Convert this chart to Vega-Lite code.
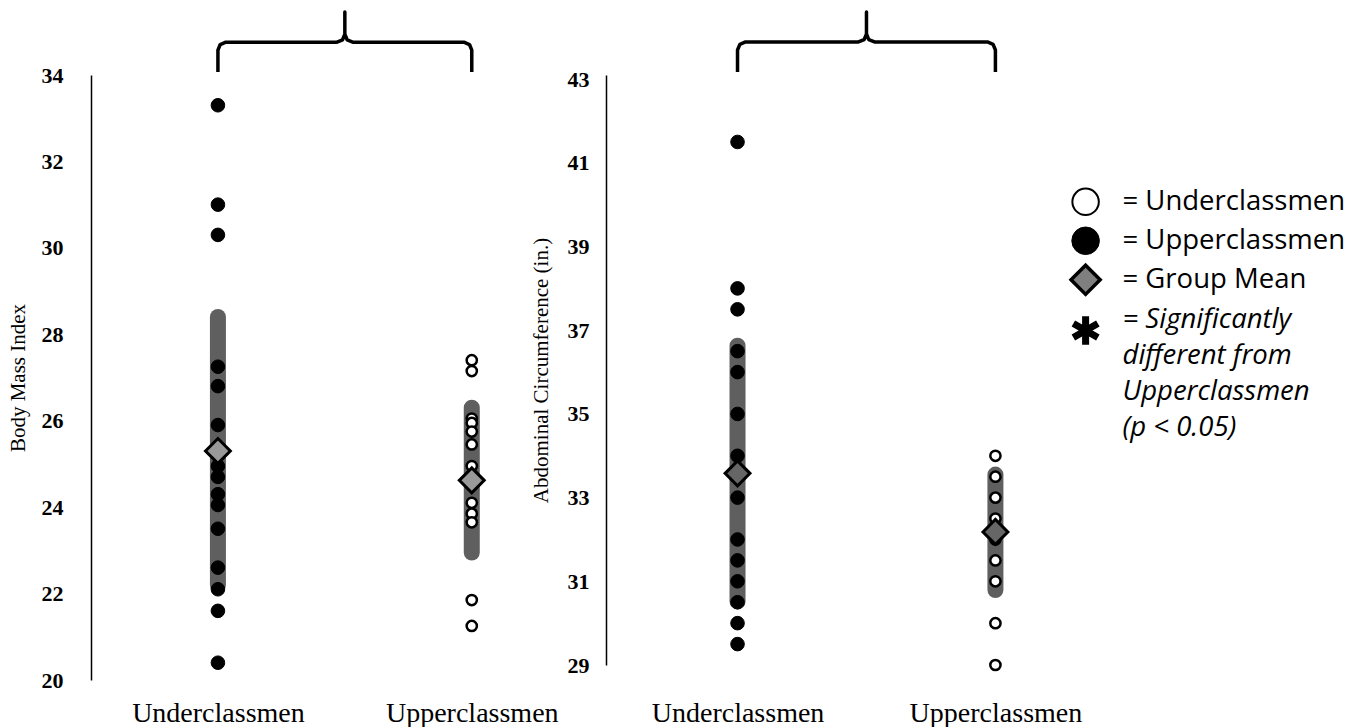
{
  "$schema": "https://vega.github.io/schema/vega-lite/v6.json",
  "background": "white",
  "padding": {"left": 7, "top": 10, "right": 0, "bottom": 0},
  "config": {"view": {"stroke": null}, "font": "Liberation Serif"},
  "datasets": {
    "bmi": [
      {"group": "Underclassmen", "idx": 1, "val": 33.3},
      {"group": "Underclassmen", "idx": 1, "val": 31.0},
      {"group": "Underclassmen", "idx": 1, "val": 30.3},
      {"group": "Underclassmen", "idx": 1, "val": 27.25},
      {"group": "Underclassmen", "idx": 1, "val": 26.8},
      {"group": "Underclassmen", "idx": 1, "val": 25.9},
      {"group": "Underclassmen", "idx": 1, "val": 24.95},
      {"group": "Underclassmen", "idx": 1, "val": 24.7},
      {"group": "Underclassmen", "idx": 1, "val": 24.3},
      {"group": "Underclassmen", "idx": 1, "val": 24.05},
      {"group": "Underclassmen", "idx": 1, "val": 23.5},
      {"group": "Underclassmen", "idx": 1, "val": 22.6},
      {"group": "Underclassmen", "idx": 1, "val": 22.1},
      {"group": "Underclassmen", "idx": 1, "val": 21.6},
      {"group": "Underclassmen", "idx": 1, "val": 20.4},
      {"group": "Upperclassmen", "idx": 2, "val": 27.4},
      {"group": "Upperclassmen", "idx": 2, "val": 27.15},
      {"group": "Upperclassmen", "idx": 2, "val": 26.05},
      {"group": "Upperclassmen", "idx": 2, "val": 25.95},
      {"group": "Upperclassmen", "idx": 2, "val": 25.75},
      {"group": "Upperclassmen", "idx": 2, "val": 25.45},
      {"group": "Upperclassmen", "idx": 2, "val": 24.95},
      {"group": "Upperclassmen", "idx": 2, "val": 24.1},
      {"group": "Upperclassmen", "idx": 2, "val": 23.85},
      {"group": "Upperclassmen", "idx": 2, "val": 23.65},
      {"group": "Upperclassmen", "idx": 2, "val": 21.85},
      {"group": "Upperclassmen", "idx": 2, "val": 21.25}
    ],
    "bmiStats": [
      {"group": "Underclassmen", "idx": 1, "val": 25.3, "lo": 22.2, "hi": 28.4},
      {"group": "Upperclassmen", "idx": 2, "val": 24.62, "lo": 22.95, "hi": 26.3}
    ],
    "ac": [
      {"group": "Underclassmen", "idx": 1, "val": 41.5},
      {"group": "Underclassmen", "idx": 1, "val": 38.0},
      {"group": "Underclassmen", "idx": 1, "val": 37.5},
      {"group": "Underclassmen", "idx": 1, "val": 36.5},
      {"group": "Underclassmen", "idx": 1, "val": 36.0},
      {"group": "Underclassmen", "idx": 1, "val": 35.0},
      {"group": "Underclassmen", "idx": 1, "val": 34.0},
      {"group": "Underclassmen", "idx": 1, "val": 33.0},
      {"group": "Underclassmen", "idx": 1, "val": 32.0},
      {"group": "Underclassmen", "idx": 1, "val": 31.5},
      {"group": "Underclassmen", "idx": 1, "val": 31.0},
      {"group": "Underclassmen", "idx": 1, "val": 30.5},
      {"group": "Underclassmen", "idx": 1, "val": 30.0},
      {"group": "Underclassmen", "idx": 1, "val": 29.5},
      {"group": "Upperclassmen", "idx": 2, "val": 34.0},
      {"group": "Upperclassmen", "idx": 2, "val": 33.5},
      {"group": "Upperclassmen", "idx": 2, "val": 33.0},
      {"group": "Upperclassmen", "idx": 2, "val": 32.5},
      {"group": "Upperclassmen", "idx": 2, "val": 32.0},
      {"group": "Upperclassmen", "idx": 2, "val": 31.5},
      {"group": "Upperclassmen", "idx": 2, "val": 31.0},
      {"group": "Upperclassmen", "idx": 2, "val": 30.0},
      {"group": "Upperclassmen", "idx": 2, "val": 29.0}
    ],
    "acStats": [
      {"group": "Underclassmen", "idx": 1, "val": 33.58, "lo": 30.52, "hi": 36.63},
      {"group": "Upperclassmen", "idx": 2, "val": 32.18, "lo": 30.79, "hi": 33.55}
    ],
    "brace1": [
      {"seq": 0, "idx": 1, "val": 34.07},
      {"seq": 1, "idx": 1, "val": 34.575},
      {"seq": 2, "idx": 1.009, "val": 34.705},
      {"seq": 3, "idx": 1.031, "val": 34.76},
      {"seq": 4, "idx": 1.469, "val": 34.76},
      {"seq": 5, "idx": 1.491, "val": 34.815},
      {"seq": 6, "idx": 1.5, "val": 34.945},
      {"seq": 7, "idx": 1.5, "val": 35.46},
      {"seq": 8, "idx": 1.5, "val": 34.945},
      {"seq": 9, "idx": 1.509, "val": 34.815},
      {"seq": 10, "idx": 1.531, "val": 34.76},
      {"seq": 11, "idx": 1.969, "val": 34.76},
      {"seq": 12, "idx": 1.991, "val": 34.705},
      {"seq": 13, "idx": 2, "val": 34.575},
      {"seq": 14, "idx": 2, "val": 34.07}
    ],
    "brace2": [
      {"seq": 0, "idx": 1, "val": 43.172},
      {"seq": 1, "idx": 1, "val": 43.698},
      {"seq": 2, "idx": 1.009, "val": 43.832},
      {"seq": 3, "idx": 1.031, "val": 43.889},
      {"seq": 4, "idx": 1.469, "val": 43.889},
      {"seq": 5, "idx": 1.491, "val": 43.946},
      {"seq": 6, "idx": 1.5, "val": 44.08},
      {"seq": 7, "idx": 1.5, "val": 44.606},
      {"seq": 8, "idx": 1.5, "val": 44.08},
      {"seq": 9, "idx": 1.509, "val": 43.946},
      {"seq": 10, "idx": 1.531, "val": 43.889},
      {"seq": 11, "idx": 1.969, "val": 43.889},
      {"seq": 12, "idx": 1.991, "val": 43.832},
      {"seq": 13, "idx": 2, "val": 43.698},
      {"seq": 14, "idx": 2, "val": 43.172}
    ],
    "legend": [
      {"row": 1, "label": "= Underclassmen"},
      {"row": 2, "label": "= Upperclassmen"},
      {"row": 3, "label": "= Group Mean"},
      {"row": 4, "label": ["= Significantly", "different from", "Upperclassmen", "(p < 0.05)"]}
    ]
  },
  "hconcat": [
    {
      "width": 495,
      "height": 605,
      "encoding": {
        "x": {"field": "idx", "type": "quantitative",
          "scale": {"domain": [0.5, 2.45], "nice": false, "zero": false},
          "axis": {"values": [1, 2], "labelExpr": "datum.value == 1 ? 'Underclassmen' : 'Upperclassmen'", "domain": false, "ticks": false, "grid": false, "labelFont": "Liberation Serif", "labelFontSize": 28, "labelColor": "black", "labelPadding": 19, "labelFlush": false, "labelOverlap": false, "title": null}},
        "y": {"field": "val", "type": "quantitative",
          "scale": {"domain": [20, 34], "nice": false, "zero": false},
          "axis": {"values": [20, 22, 24, 26, 28, 30, 32, 34], "grid": false, "ticks": false, "domain": true, "domainColor": "black", "domainWidth": 1.5, "labelFont": "Liberation Serif", "labelFontWeight": "bold", "labelFontSize": 22, "labelColor": "black", "labelPadding": 28, "labelFlush": false, "title": "Body Mass Index", "titleFont": "Liberation Serif", "titleFontWeight": "normal", "titleFontSize": 21, "titleColor": "black", "titlePadding": 13}}
      },
      "layer": [
        {
          "data": {"name": "bmiStats"},
          "mark": {"type": "rule", "strokeWidth": 16, "strokeCap": "round", "color": "#5f5f5f"},
          "encoding": {
            "y": {"field": "lo", "type": "quantitative",
              "scale": {"domain": [20, 34], "nice": false, "zero": false},
              "axis": {"values": [20, 22, 24, 26, 28, 30, 32, 34], "grid": false, "ticks": false, "domain": true, "domainColor": "black", "domainWidth": 1.5, "labelFont": "Liberation Serif", "labelFontWeight": "bold", "labelFontSize": 22, "labelColor": "black", "labelPadding": 28, "labelFlush": false, "title": "Body Mass Index", "titleFont": "Liberation Serif", "titleFontWeight": "normal", "titleFontSize": 21, "titleColor": "black", "titlePadding": 13}},
            "y2": {"field": "hi"}
          }
        },
        {
          "data": {"name": "bmi"},
          "transform": [{"filter": "datum.group == 'Underclassmen'"}],
          "mark": {"type": "point", "shape": "circle", "filled": true, "fill": "black", "stroke": "black", "strokeWidth": 1, "size": 185, "opacity": 1}
        },
        {
          "data": {"name": "bmi"},
          "transform": [{"filter": "datum.group == 'Upperclassmen'"}],
          "mark": {"type": "point", "shape": "circle", "filled": true, "fill": "white", "stroke": "black", "strokeWidth": 2.5, "size": 105, "opacity": 1}
        },
        {
          "data": {"name": "bmiStats"},
          "mark": {"type": "point", "shape": "diamond", "filled": true, "fill": "#999999", "stroke": "black", "strokeWidth": 3, "size": 620, "opacity": 1}
        },
        {
          "data": {"name": "brace1"},
          "mark": {"type": "line", "color": "black", "strokeWidth": 3.5, "strokeJoin": "round"},
          "encoding": {"order": {"field": "seq", "type": "quantitative"}}
        },
        {
          "data": {"values": [{}]},
          "mark": {"type": "text", "text": "p > 0.05", "font": "Liberation Serif", "fontSize": 21, "color": "black", "align": "center", "baseline": "middle"},
          "encoding": {"x": {"datum": 1.44}, "y": {"datum": 31.35}}
        }
      ]
    },
    {
      "width": 441,
      "height": 590,
      "encoding": {
        "x": {"field": "idx", "type": "quantitative",
          "scale": {"domain": [0.49, 2.2], "nice": false, "zero": false},
          "axis": {"values": [1, 2], "labelExpr": "datum.value == 1 ? 'Underclassmen' : 'Upperclassmen'", "domain": false, "ticks": false, "grid": false, "labelFont": "Liberation Serif", "labelFontSize": 28, "labelColor": "black", "labelPadding": 34, "labelFlush": false, "labelOverlap": false, "title": null}},
        "y": {"field": "val", "type": "quantitative",
          "scale": {"domain": [29, 43.1], "nice": false, "zero": false},
          "axis": {"values": [29, 31, 33, 35, 37, 39, 41, 43], "grid": false, "ticks": false, "domain": true, "domainColor": "black", "domainWidth": 1.5, "labelFont": "Liberation Serif", "labelFontWeight": "bold", "labelFontSize": 22, "labelColor": "black", "labelPadding": 17, "labelFlush": false, "title": "Abdominal Circumference (in.)", "titleFont": "Liberation Serif", "titleFontWeight": "normal", "titleFontSize": 21, "titleColor": "black", "titlePadding": 16}}
      },
      "layer": [
        {
          "data": {"name": "acStats"},
          "mark": {"type": "rule", "strokeWidth": 16, "strokeCap": "round", "color": "#5f5f5f"},
          "encoding": {
            "y": {"field": "lo", "type": "quantitative",
              "scale": {"domain": [29, 43.1], "nice": false, "zero": false},
              "axis": {"values": [29, 31, 33, 35, 37, 39, 41, 43], "grid": false, "ticks": false, "domain": true, "domainColor": "black", "domainWidth": 1.5, "labelFont": "Liberation Serif", "labelFontWeight": "bold", "labelFontSize": 22, "labelColor": "black", "labelPadding": 17, "labelFlush": false, "title": "Abdominal Circumference (in.)", "titleFont": "Liberation Serif", "titleFontWeight": "normal", "titleFontSize": 21, "titleColor": "black", "titlePadding": 16}},
            "y2": {"field": "hi"}
          }
        },
        {
          "data": {"name": "ac"},
          "transform": [{"filter": "datum.group == 'Underclassmen'"}],
          "mark": {"type": "point", "shape": "circle", "filled": true, "fill": "black", "stroke": "black", "strokeWidth": 1, "size": 185, "opacity": 1}
        },
        {
          "data": {"name": "ac"},
          "transform": [{"filter": "datum.group == 'Upperclassmen'"}],
          "mark": {"type": "point", "shape": "circle", "filled": true, "fill": "white", "stroke": "black", "strokeWidth": 2.5, "size": 105, "opacity": 1}
        },
        {
          "data": {"name": "acStats"},
          "mark": {"type": "point", "shape": "diamond", "filled": true, "fill": "#666666", "stroke": "black", "strokeWidth": 3, "size": 620, "opacity": 1}
        },
        {
          "data": {"name": "brace2"},
          "mark": {"type": "line", "color": "black", "strokeWidth": 3.5, "strokeJoin": "round"},
          "encoding": {"order": {"field": "seq", "type": "quantitative"}}
        },
        {
          "data": {"values": [{}]},
          "mark": {"type": "text", "text": "p > 0.05", "font": "Liberation Serif", "fontSize": 21, "color": "black", "align": "center", "baseline": "middle"},
          "encoding": {"x": {"datum": 1.42}, "y": {"datum": 40.35}}
        }
      ]
    },
    {
      "width": 291,
      "height": 605,
      "data": {"name": "legend"},
      "encoding": {
        "x": {"datum": 0.62, "type": "quantitative", "scale": {"domain": [0, 9.7], "nice": false, "zero": false}, "axis": null},
        "y": {"field": "row", "type": "quantitative", "scale": {"domain": [-2.25, 13.26], "nice": false, "zero": false, "reverse": true}, "axis": null}
      },
      "layer": [
        {
          "transform": [{"filter": "datum.row == 1"}],
          "mark": {"type": "point", "shape": "circle", "filled": true, "fill": "white", "stroke": "black", "strokeWidth": 2, "size": 700, "opacity": 1}
        },
        {
          "transform": [{"filter": "datum.row == 2"}],
          "mark": {"type": "point", "shape": "circle", "filled": true, "fill": "black", "stroke": "black", "strokeWidth": 1, "size": 760, "opacity": 1}
        },
        {
          "transform": [{"filter": "datum.row == 3"}],
          "mark": {"type": "point", "shape": "diamond", "filled": true, "fill": "#7f7f7f", "stroke": "black", "strokeWidth": 3.5, "size": 850, "opacity": 1}
        },
        {
          "transform": [{"filter": "datum.row == 4"}],
          "mark": {"type": "point", "shape": "M0,-1L0,1M-0.866,-0.5L0.866,0.5M-0.866,0.5L0.866,-0.5", "filled": false, "stroke": "black", "strokeWidth": 7, "size": 800, "opacity": 1},
          "encoding": {"y": {"datum": 4.3, "type": "quantitative"}}
        },
        {
          "transform": [{"filter": "datum.row < 4"}],
          "mark": {"type": "text", "font": "Open Sans", "fontSize": 27.5, "color": "black", "align": "left", "baseline": "middle", "clip": true},
          "encoding": {"x": {"datum": 1.85, "type": "quantitative"}, "text": {"field": "label"}}
        },
        {
          "transform": [{"filter": "datum.row == 4"}],
          "mark": {"type": "text", "font": "Open Sans", "fontSize": 27.5, "fontStyle": "italic", "color": "black", "align": "left", "baseline": "alphabetic", "lineHeight": 36, "dy": 9, "clip": true},
          "encoding": {"x": {"datum": 1.85, "type": "quantitative"}, "text": {"field": "label"}}
        }
      ]
    }
  ],
  "spacing": 20,
  "bounds": "flush"
}
